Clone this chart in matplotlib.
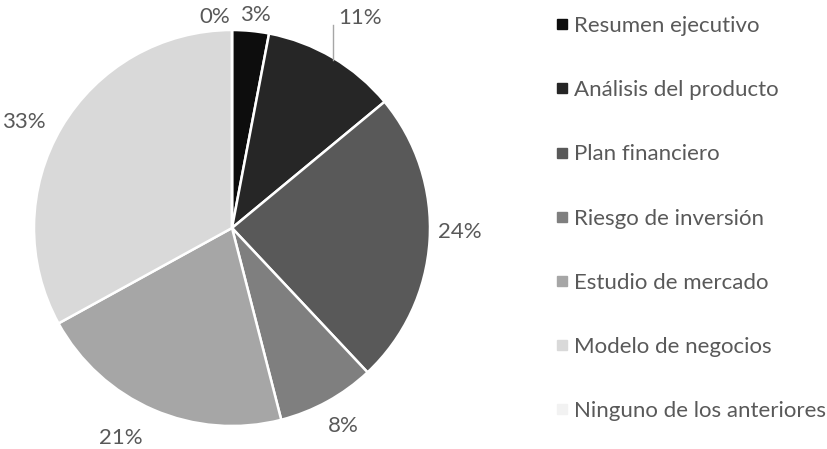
import numpy as np
import matplotlib.pyplot as plt
from matplotlib.lines import Line2D

# data
categories = ['Resumen ejecutivo', 'Análisis del producto', 'Plan financiero',
              'Riesgo de inversión', 'Estudio de mercado', 'Modelo de negocios',
              'Ninguno de los anteriores']
shares = [3, 11, 24, 8, 21, 33, 0]
colors = ['#0d0d0d', '#262626', '#595959', '#7f7f7f', '#a6a6a6', '#d9d9d9', '#f2f2f2']

text_color = '#595959'
plt.rcParams['font.family'] = ['Lato', 'DejaVu Sans']
fs = 16

W, H = 828, 449
fig = plt.figure(figsize=(W / 100, H / 100), dpi=100)
cx, cy, r = 232, 228, 198
ax = fig.add_axes([(cx - r) / W, (H - cy - r) / H, 2 * r / W, 2 * r / H])

wedges, _ = ax.pie(shares, colors=colors, startangle=90, counterclock=False,
                   radius=1, wedgeprops=dict(edgecolor='white', linewidth=1.8))
ax.set_xlim(-1, 1)
ax.set_ylim(-1, 1)
ax.set_aspect('equal')
ax.axis('off')

# label placement like Excel "best fit": distance and angle nudge per slice
dist = [1.08, 1.06, 1.15, 1.15, 1.20, 1.18, 1.07]
nudge = [-1, 0, 2.6, 0.6, -4.5, 3.6, 4.8]
for w, v, d, n in zip(wedges, shares, dist, nudge):
    mid = np.deg2rad((w.theta1 + w.theta2) / 2)
    if v == 11:
        # label pushed up with a leader line
        x0, y0 = np.cos(mid), np.sin(mid)
        ax.plot([x0, x0], [y0 - 0.01, 1.025], color='#a6a6a6', lw=1, clip_on=False)
        ax.text(x0 + 0.025, d, f'{v}%', ha='left', va='center',
                fontsize=fs, color=text_color)
        continue
    ang = mid + np.deg2rad(n)
    ax.text(d * np.cos(ang), d * np.sin(ang), f'{v}%', ha='center', va='center',
            fontsize=fs, color=text_color)

handles = [Line2D([], [], marker='s', linestyle='none', markersize=6.5,
                  markerfacecolor=c, markeredgecolor=c) for c in colors]
fig.legend(handles, categories, loc='upper left', bbox_to_anchor=(542 / W, 1 - 7 / H),
           frameon=False, fontsize=fs, labelcolor=text_color, labelspacing=1.99,
           handletextpad=0.05, handlelength=1.0, borderaxespad=0)

fig.savefig('out.png', dpi=100)
